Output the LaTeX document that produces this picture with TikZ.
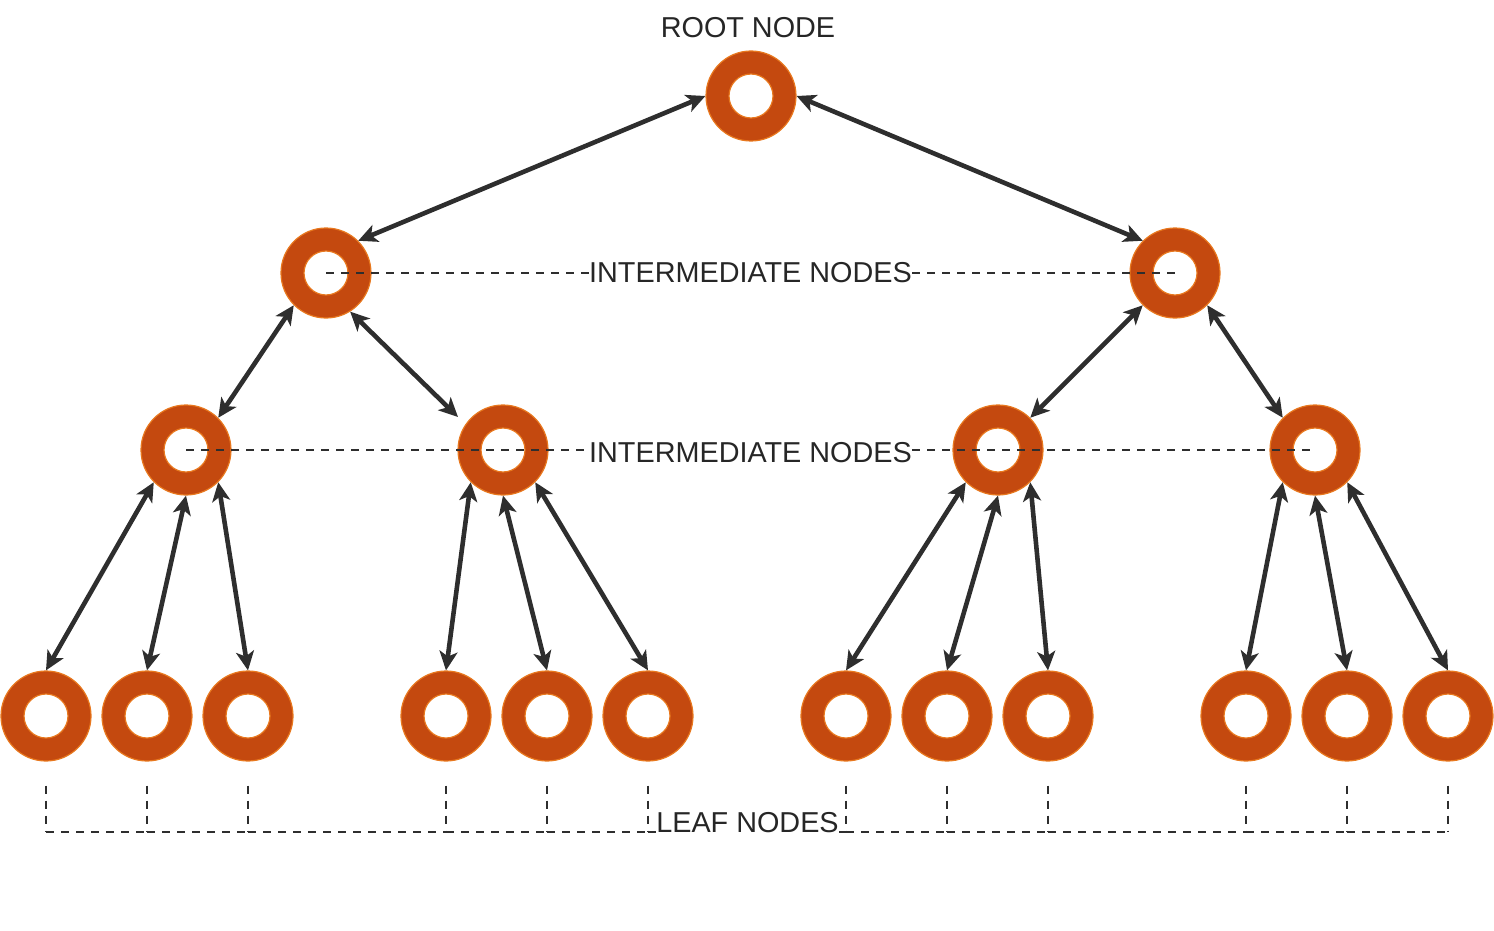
\documentclass[tikz,border=0pt]{standalone}
\usepackage{fontspec}
\setmainfont{Liberation Sans}
\usetikzlibrary{arrows.meta,calc}
\definecolor{ringc}{HTML}{C4490F}
\definecolor{edgec}{HTML}{E8781E}
\definecolor{arrc}{HTML}{2E2E2E}
\definecolor{txtc}{HTML}{262626}
\tikzset{
  ring/.style={circle, minimum size=45pt, inner sep=0pt, fill=ringc, draw=edgec, line width=0.6pt,
    path picture={\fill[white] (path picture bounding box.center) circle (11pt);
      \draw[edgec, line width=0.6pt] (path picture bounding box.center) circle (11pt);}},
  link/.style={draw=arrc, line width=2.3pt, {Stealth[length=9.5pt,width=9pt,inset=2.5pt]}-{Stealth[length=9.5pt,width=9pt,inset=2.5pt]}},
  guide/.style={draw=arrc, line width=1pt, dash pattern=on 4pt off 3.5pt},
  lbl/.style={inner sep=0pt, text=txtc, font=\fontsize{14.4}{17}\selectfont}
}
\begin{document}
\begin{tikzpicture}[x=0.5pt,y=-0.5pt]
\useasboundingbox (0,0) rectangle (1494,931);
% nodes
\node[ring] (R) at (751,96) {};
\node[ring] (A) at (326,273) {};
\node[ring] (B) at (1175,273) {};
\node[ring] (A1) at (186,450) {};
\node[ring] (A2) at (503,450) {};
\node[ring] (B1) at (998,450) {};
\node[ring] (B2) at (1315,450) {};
\foreach \n/\x in {1/46,2/147,3/248,4/446,5/547,6/648,7/846,8/947,9/1048,10/1246,11/1347,12/1448}
  \node[ring] (L\n) at (\x,716) {};
% labels
\node[lbl] (troot) at (748,28) {ROOT NODE};
\node[lbl] (tint1) at (750.5,273) {INTERMEDIATE NODES};
\node[lbl] (tint2) at (750.5,453) {INTERMEDIATE NODES};
\node[lbl, anchor=base] (tleaf) at (747.5,832) {LEAF NODES};
% arrows
\draw[link] (A.45) -- (R.180);
\draw[link] (R.0) -- (B.135);
\draw[link] (A.225) -- (A1.45);
\draw[link] (A.302) -- ($(A2)+(-45,-33)$);
\draw[link] (B.225) -- (B1.45);
\draw[link] (B.315) -- (B2.135);
\draw[link] (A1.225) -- (L1.north);
\draw[link] (A1.270) -- (L2.north);
\draw[link] (A1.315) -- (L3.north);
\draw[link] (A2.225) -- (L4.north);
\draw[link] (A2.270) -- (L5.north);
\draw[link] (A2.315) -- (L6.north);
\draw[link] (B1.225) -- (L7.north);
\draw[link] (B1.270) -- (L8.north);
\draw[link] (B1.315) -- (L9.north);
\draw[link] (B2.225) -- (L10.north);
\draw[link] (B2.270) -- (L11.north);
\draw[link] (B2.315) -- (L12.north);
% guide lines
\draw[guide] (A.center) -- (A.center -| tint1.west);
\draw[guide] (tint1.east |- B.center) -- (B.center);
\draw[guide] (A1.center) -- (A1.center -| tint2.west);
\draw[guide] (tint2.east |- B2.center) -- (B2.center);
\foreach \n in {1,...,12}
  \draw[guide] ($(L\n.south)+(0,24)$) -- (L\n.south |- tleaf.base);
\foreach \a/\b in {1/2,2/3,3/4,4/5,5/6}
  \draw[guide] (L\a.south |- tleaf.base) -- (L\b.south |- tleaf.base);
\draw[guide] (L6.south |- tleaf.base) -- (tleaf.base west);
\draw[guide] (tleaf.base east) -- (L7.south |- tleaf.base);
\foreach \a/\b in {7/8,8/9,9/10,10/11,11/12}
  \draw[guide] (L\a.south |- tleaf.base) -- (L\b.south |- tleaf.base);
\end{tikzpicture}
\end{document}
